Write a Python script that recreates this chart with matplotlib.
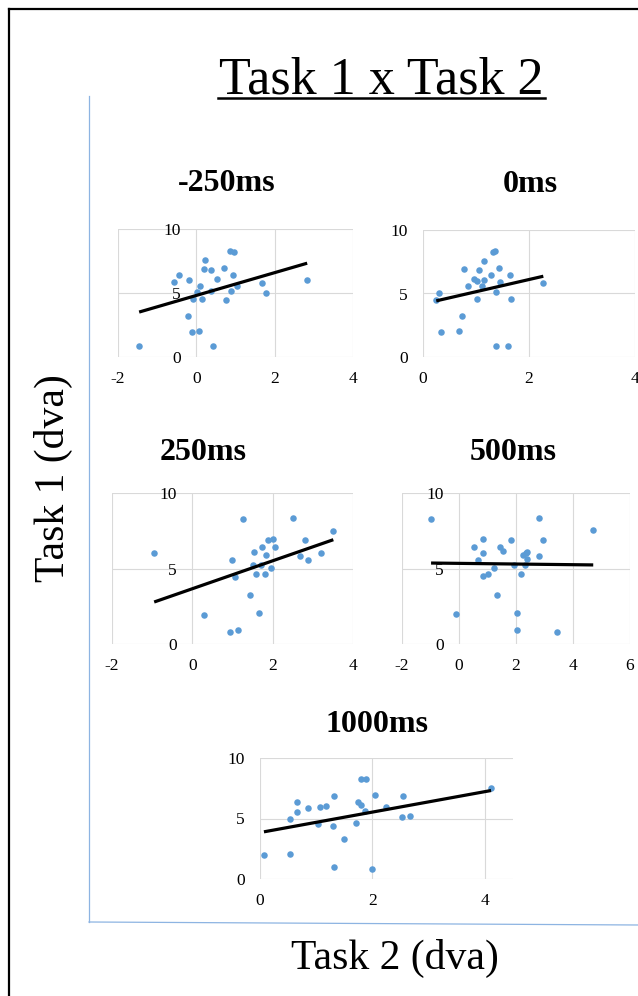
import numpy as np
import matplotlib
matplotlib.use("Agg")
import matplotlib.pyplot as plt
from matplotlib.lines import Line2D

plt.rcParams["font.family"] = ["Liberation Serif", "DejaVu Serif"]
plt.rcParams["axes.unicode_minus"] = False

W, H = 638, 996

panel_titles = ["-250ms", "0ms", "250ms", "500ms", "1000ms"]

# -250ms
x_m250 = [-1.46, -0.58, -0.44, -0.19, -0.21, -0.10, 0.07, -0.09, 0.02, 0.09,
          0.14, 0.22, 0.20, 0.37, 0.43, 0.38, 0.52, 0.71, 0.77, 0.85,
          0.97, 0.94, 0.89, 1.04, 1.68, 1.79, 2.83]
y_m250 = [0.84, 5.89, 6.39, 6.02, 3.22, 1.94, 2.02, 4.55, 5.10, 5.55,
          4.55, 7.54, 6.88, 6.81, 0.89, 5.18, 6.10, 6.96, 4.42, 8.32,
          8.22, 6.39, 5.13, 5.55, 5.81, 4.97, 6.05]

# 0ms
x_0 = [0.25, 0.30, 0.34, 0.68, 0.73, 0.78, 0.84, 0.97, 1.01, 1.01,
       1.06, 1.12, 1.16, 1.16, 1.28, 1.33, 1.36, 1.37, 1.37, 1.43,
       1.46, 1.60, 1.65, 1.66, 2.27]
y_0 = [4.47, 5.00, 1.95, 2.03, 3.24, 6.92, 5.58, 6.18, 6.00, 4.58,
       6.84, 5.58, 7.55, 6.05, 6.42, 8.29, 8.34, 0.84, 5.13, 7.00,
       5.92, 0.89, 6.42, 4.58, 5.84]

# 250ms
x_250 = [-0.95, 0.30, 0.94, 1.14, 0.98, 1.06, 1.27, 1.44, 1.54, 1.52,
         1.58, 1.67, 1.71, 1.73, 1.83, 1.80, 1.88, 1.97, 2.01, 2.06,
         2.50, 2.68, 2.80, 2.89, 3.21, 3.51]
y_250 = [6.00, 1.94, 0.82, 0.95, 5.58, 4.44, 8.28, 3.27, 6.11, 5.23,
         4.64, 2.08, 5.23, 6.42, 5.92, 4.64, 6.89, 5.03, 6.93, 6.40,
         8.32, 5.81, 6.89, 5.58, 6.05, 7.48]

# 500ms
x_500 = [-0.98, -0.09, 0.53, 0.66, 0.83, 0.85, 0.85, 1.02, 1.22, 1.34,
         1.45, 1.53, 1.83, 1.94, 2.03, 2.03, 2.17, 2.26, 2.30, 2.34,
         2.38, 2.38, 2.79, 2.80, 2.94, 3.43, 4.71]
y_500 = [8.29, 2.00, 6.40, 5.56, 6.97, 6.02, 4.48, 4.62, 5.01, 3.25,
         6.40, 6.15, 6.86, 5.21, 2.07, 0.95, 4.62, 5.89, 5.21, 6.00,
         6.09, 5.63, 8.33, 5.85, 6.90, 0.81, 7.52]

# 1000ms
x_1000 = [0.07, 0.53, 0.53, 0.65, 0.65, 0.85, 1.06, 1.04, 1.18, 1.29,
          1.31, 1.31, 1.50, 1.70, 1.75, 1.79, 1.79, 1.88, 1.86, 1.99,
          2.04, 2.24, 2.52, 2.55, 2.67, 4.11]
y_1000 = [2.00, 2.06, 5.00, 6.35, 5.55, 5.85, 5.96, 4.56, 6.04, 4.42,
          6.87, 0.96, 3.27, 4.59, 6.35, 6.10, 8.27, 8.27, 5.66, 0.80,
          6.95, 5.96, 5.16, 6.87, 5.22, 7.53]

x_series = [x_m250, x_0, x_250, x_500, x_1000]
y_series = [y_m250, y_0, y_250, y_500, y_1000]

# linear trendlines
fit_slope = [0.89, 0.96, 0.925, -0.022, 0.845]
fit_intercept = [4.81, 4.18, 3.66, 5.34, 3.84]

x_limits = [(-2, 4), (0, 4), (-2, 4), (-2, 6), (0, 4.5)]
x_tick_values = [[-2, 0, 2, 4], [0, 2, 4], [-2, 0, 2, 4], [-2, 0, 2, 4, 6], [0, 2, 4]]
y_tick_values = [0, 5, 10]

# plot boxes in pixels: left, top, right, bottom
boxes = [(118, 229, 353, 357), (423, 230, 635, 357), (112, 493, 353, 644),
         (402, 493, 630, 644), (260, 758, 513, 879)]
title_pos = [(227, 183), (530, 185), (203, 453), (513, 453), (377, 725)]


def fig_line(fig, xs, ys, **kw):
    fig.add_artist(Line2D([x / W for x in xs], [1 - y / H for y in ys],
                          transform=fig.transFigure, **kw))


def make_chart():
    fig = plt.figure(figsize=(W / 100, H / 100), dpi=100)

    for i in range(5):
        l, t, r, b = boxes[i]
        ax = fig.add_axes([l / W, 1 - b / H, (r - l) / W, (b - t) / H])
        x = np.array(x_series[i])
        y = np.array(y_series[i])
        ax.scatter(x, y, s=22, color="#5b9bd5", linewidths=0, zorder=3)
        xs = np.array([x.min(), x.max()])
        ax.plot(xs, fit_slope[i] * xs + fit_intercept[i], color="black",
                lw=2.3, zorder=4, solid_capstyle="butt")

        ax.set_xlim(*x_limits[i])
        ax.set_ylim(0, 10)
        ax.set_xticks(x_tick_values[i])
        ax.set_xticklabels([str(v) for v in x_tick_values[i]])
        ax.set_yticks(y_tick_values)
        ax.set_yticklabels([str(v) for v in y_tick_values])
        ax.grid(True, color="#d9d9d9", lw=0.8)
        ax.set_axisbelow(True)
        for s in ["top", "right", "bottom"]:
            ax.spines[s].set_visible(False)
        ax.spines["left"].set_position(("data", 0))
        ax.spines["left"].set_visible(False)
        ax.patch.set_alpha(0)
        ax.tick_params(length=0, labelsize=12.5)
        ax.tick_params(axis="y", pad=11)
        ax.tick_params(axis="x", pad=10)

        cx, cy = title_pos[i]
        fig.text(cx / W, 1 - cy / H, panel_titles[i], ha="center", va="center",
                 fontsize=23, fontweight="bold")

    # main title with underline
    fig.text(381 / W, 1 - 94 / H, "Task 1 x Task 2", ha="center",
             va="baseline", fontsize=37.5)
    fig_line(fig, [218, 545], [98, 98], color="black", lw=1.8)

    fig.text(53 / W, 1 - 478 / H, "Task 1 (dva)", rotation=90, ha="center",
             va="center", fontsize=30)
    fig.text(395 / W, 1 - 958 / H, "Task 2 (dva)", ha="center", va="center",
             fontsize=30)

    # outer frame and light blue axes
    fig_line(fig, [9, 9], [9, H], color="black", lw=1.6)
    fig_line(fig, [9, W], [9, 9], color="black", lw=1.6)
    fig_line(fig, [89, 89], [96, 922], color="#8db4e2", lw=0.9)
    fig_line(fig, [89, W], [922, 925], color="#8db4e2", lw=0.9)

    fig.savefig("out.png", dpi=100)
    plt.close(fig)


if __name__ == "__main__":
    make_chart()
